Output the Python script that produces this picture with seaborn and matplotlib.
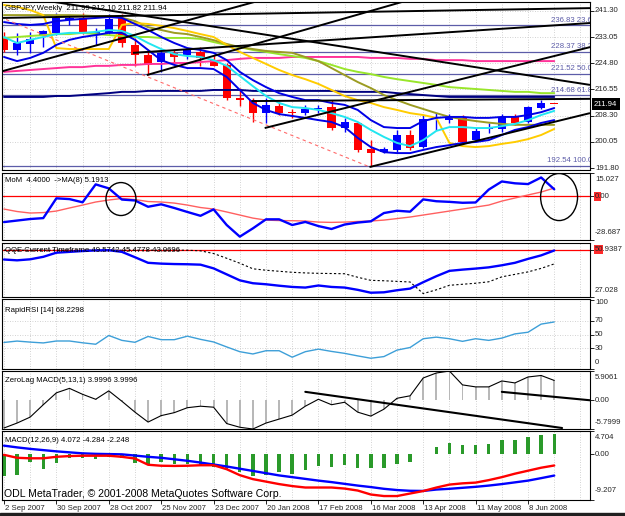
import matplotlib
matplotlib.use("Agg")
import matplotlib.pyplot as plt
import matplotlib.transforms as mtransforms
from matplotlib.patches import Ellipse, Rectangle
import numpy as np
import pandas as pd
import seaborn as sns

sns.set_style("white")
plt.rcParams['font.family'] = ['Liberation Sans Narrow', 'Liberation Sans', 'DejaVu Sans']
plt.rcParams['axes.linewidth'] = 0.75

# ------------------------------------------------------------------ data
weeks = list(range(43))
date_index = [0, 4, 8, 12, 16, 20, 24, 28, 32, 36, 40]
date_labels = ["2 Sep 2007", "30 Sep 2007", "28 Oct 2007", "25 Nov 2007", "23 Dec 2007",
               "20 Jan 2008", "17 Feb 2008", "16 Mar 2008", "13 Apr 2008", "11 May 2008",
               "8 Jun 2008"]

open_ = [232.8, 229.0, 230.9, 233.4, 234.3, 238.5, 239.0, 234.0, 234.3, 239.0, 230.6, 227.4, 225.3,
         228.0, 227.4, 228.5, 225.9, 224.3, 214.0, 213.2, 209.0, 211.3, 209.2, 209.0, 210.5, 211.1,
         204.3, 205.9, 197.7, 196.8, 197.5, 202.2, 198.5, 207.6, 206.9, 207.5, 200.6, 204.0, 204.0,
         207.8, 206.4, 210.6, 211.99]
close_ = [229.0, 231.2, 232.4, 235.0, 239.0, 239.0, 234.8, 234.6, 238.7, 231.1, 227.4, 224.3, 228.0,
          226.9, 229.0, 226.4, 224.0, 213.8, 213.2, 209.0, 211.7, 209.0, 209.0, 210.3, 210.7, 204.3,
          206.4, 197.5, 196.6, 197.7, 202.2, 198.0, 207.1, 208.0, 208.0, 200.1, 203.6, 204.4, 207.8,
          205.9, 210.9, 212.2, 211.94]
high_ = [234.7, 234.4, 234.8, 235.3, 240.6, 240.0, 240.6, 235.8, 240.2, 240.2, 232.7, 229.0, 229.0,
         229.0, 229.6, 230.0, 227.4, 224.9, 217.0, 213.8, 213.8, 212.6, 210.5, 211.7, 211.7, 213.2,
         207.5, 206.4, 200.6, 198.5, 203.8, 203.8, 208.5, 209.1, 208.8, 208.5, 204.4, 205.9, 208.8,
         208.8, 211.4, 213.3, 212.10]
low_ = [228.4, 227.4, 228.0, 230.0, 233.7, 236.9, 234.0, 230.5, 233.7, 230.0, 223.9, 221.1, 222.2,
        225.3, 226.3, 223.9, 223.9, 213.2, 211.5, 206.4, 205.9, 208.5, 207.5, 208.5, 209.0, 203.8,
        203.2, 196.9, 192.54, 196.5, 196.9, 197.5, 198.0, 203.8, 205.9, 199.5, 199.9, 202.8, 203.2,
        205.4, 205.9, 210.3, 211.82]

band_upper = [237.8, 237.2, 236.9, 237.2, 238.1, 238.5, 238.8, 239.1, 239.4, 239.1, 237.2, 235.3, 233.1,
              231.2, 229.6, 229.0, 228.1, 225.8, 222.1, 219.5, 217.3, 215.4, 214.2, 213.2, 213.2, 212.3,
              211.7, 210.1, 206.9, 204.7, 204.4, 204.4, 206.6, 207.6, 207.9, 207.9, 207.6, 207.6, 207.9,
              207.9, 208.5, 209.4, 210.7]
band_lower = [226.8, 225.5, 226.5, 228.1, 230.6, 232.2, 233.1, 233.7, 234.4, 234.4, 232.2, 229.0, 225.8,
              224.3, 223.3, 223.3, 223.0, 220.5, 216.4, 212.3, 210.1, 208.8, 208.2, 207.6, 206.9, 206.3,
              204.7, 201.3, 198.4, 196.8, 196.5, 196.5, 197.5, 198.4, 199.0, 199.7, 200.0, 200.6, 202.2,
              203.8, 204.7, 206.0, 206.9]
ma_cyan = [233.1, 231.2, 232.2, 233.1, 234.0, 234.4, 234.4, 234.7, 235.3, 235.0, 233.4, 231.2, 229.3,
           227.7, 227.1, 226.8, 225.8, 224.0, 220.8, 217.6, 214.5, 212.3, 211.0, 210.7, 210.1, 209.1,
           207.9, 206.3, 203.8, 201.6, 199.7, 198.7, 200.6, 203.5, 204.7, 204.7, 204.4, 204.4, 205.0,
           205.7, 206.9, 208.5, 209.8]
ma_yellow = [243.2, 242.6, 241.6, 240.0, 229.6, 229.3, 229.3, 229.3, 229.3, 236.9, 237.5, 237.2, 236.6,
             235.9, 235.0, 234.0, 233.1, 230.6, 228.4, 226.5, 224.6, 222.7, 221.1, 219.8, 218.3, 216.4,
             214.5, 213.2, 212.3, 211.0, 210.1, 209.1, 208.5, 207.6, 199.7, 198.7, 198.4, 198.7, 199.4,
             200.0, 200.9, 202.2, 204.1]
ma_olive = [240.0, 240.0, 240.0, 240.0, 240.0, 240.0, 239.9, 239.7, 239.7, 239.2, 238.1, 236.2, 235.3,
            234.4, 234.0, 233.1, 232.1, 230.9, 229.9, 229.3, 228.7, 228.4, 228.1, 226.8, 225.5, 223.3,
            221.1, 218.9, 217.0, 214.8, 213.2, 211.7, 210.4, 209.1, 207.9, 207.2, 206.6, 206.1, 205.7,
            205.4, 205.4, 205.4, 205.4]
ma_green = [232.8, 233.1, 233.4, 233.7, 234.0, 234.0, 234.4, 234.0, 233.7, 233.4, 233.1, 233.1, 232.8,
            232.8, 232.8, 232.5, 231.5, 230.6, 229.9, 229.0, 228.4, 227.7, 227.1, 226.5, 225.5, 224.3,
            223.0, 222.1, 221.4, 220.5, 219.8, 219.2, 218.6, 218.0, 217.3, 217.0, 216.7, 216.4, 216.1,
            215.8, 215.8, 215.4, 215.4]
ma_pink = [222.1, 222.4, 222.7, 223.0, 223.3, 223.6, 223.6, 224.0, 224.0, 224.3, 224.3, 224.6, 224.6,
           224.9, 224.9, 225.2, 225.5, 225.8, 226.2, 226.5, 226.5, 226.5, 226.8, 226.8, 226.8, 226.8,
           226.8, 226.8, 226.5, 226.5, 226.5, 226.2, 226.2, 225.8, 225.8, 225.8, 225.5, 225.5, 225.5,
           225.5, 225.5, 225.5, 225.5]
ma_navy = [214.2, 214.2, 214.2, 214.2, 214.5, 214.5, 214.8, 215.1, 215.4, 215.8, 215.8, 216.1, 216.1,
           216.1, 216.1, 216.1, 216.4, 216.4, 216.4, 216.1, 216.1, 216.1, 216.1, 216.1, 216.1, 216.1,
           215.8, 215.8, 215.8, 215.8, 215.4, 215.1, 214.8, 214.5, 214.2, 214.2, 214.2, 214.2, 214.2,
           214.2, 214.2, 214.2, 214.2]

price_ticks = [241.30, 233.05, 224.80, 216.55, 208.30, 200.05, 191.80]
last_price = 211.94
fib_levels = [236.83, 228.37, 221.52, 214.68, 192.54]
fib_pcts = ["23.6", "38.2", "50.0", "61.8", "100.0"]

# user trend lines (week index, price) start -> end
trend_x0 = [-0.31, 3.9, -0.31, 10.9, 9.85, 19.9, 18.9, 27.9]
trend_y0 = [239.1, 244.1, 222.1, 221.1, 228.1, 204.4, 212.9, 192.1]
trend_x1 = [44.73, 44.73, 19.7, 30.6, 44.73, 44.73, 44.73, 44.73]
trend_y1 = [242.2, 218.0, 244.8, 244.4, 237.5, 229.9, 213.6, 209.1]
dashed_x = [-0.31, 27.94]
dashed_y = [239.4, 192.1]

mom = [-17.0, -16.0, -15.0, -14.4, -1.5, -2.0, -4.1, 7.6, 5.0, -2.3, -2.9, -7.0, -5.4, -7.8, -10.4,
       -12.9, -8.7, -18.9, -26.5, -21.1, -15.2, -15.2, -18.9, -16.9, -19.6, -21.5, -18.6, -17.3, -16.5,
       -11.1, -9.6, -10.2, -2.2, -3.4, -3.8, -4.4, -4.2, 4.2, 9.5, 8.3, 7.8, 12.1, 4.4]
mom_ma = [-8.5, -10.1, -11.1, -10.8, -9.8, -7.8, -5.9, -3.9, -2.6, -1.6, -2.3, -3.6, -3.9, -4.6, -5.9,
          -7.5, -8.5, -10.4, -12.4, -14.4, -15.7, -16.0, -16.1, -16.3, -17.0, -17.2, -17.0, -16.6, -16.3,
          -15.7, -14.7, -13.7, -12.4, -11.1, -9.8, -8.5, -7.2, -5.9, -3.3, -1.3, 0.7, 2.6, 5.19]
circle_x = [8.93, 42.37]
circle_y = [-1.96, -0.65]
circle_w = [2.29, 2.82]
circle_h = [21.5, 30.7]

qqe_fast = [45.2, 44.8, 45.3, 46.5, 48.5, 48.9, 49.3, 49.6, 49.7, 48.9, 46.3, 43.6, 43.2, 43.0, 42.9,
            42.7, 40.9, 38.0, 35.1, 33.7, 33.2, 32.5, 31.9, 31.6, 32.6, 31.9, 31.6, 30.5, 29.1, 29.3,
            30.3, 31.1, 34.2, 37.1, 39.7, 40.3, 40.8, 41.4, 42.4, 43.6, 45.5, 47.2, 49.57]
qqe_slow = [49.7, 49.7, 49.7, 49.7, 49.7, 49.7, 49.7, 49.7, 49.7, 49.7, 49.7, 49.7, 49.7, 49.7, 49.7,
            49.4, 48.1, 45.8, 43.4, 40.7, 40.0, 39.5, 39.0, 38.7, 38.5, 38.4, 38.3, 36.6, 35.1, 34.9,
            34.6, 34.3, 28.7, 30.5, 32.7, 33.2, 33.7, 34.4, 36.8, 38.0, 39.2, 40.9, 43.07]

rapid_rsi = [38.5, 40.5, 39.0, 37.8, 40.6, 40.6, 38.0, 35.9, 48.6, 41.5, 38.7, 47.2, 42.5, 42.5, 47.6,
             43.0, 39.2, 32.0, 25.1, 21.8, 26.5, 26.5, 17.1, 25.1, 28.8, 25.5, 22.7, 19.0, 15.6, 18.0,
             27.4, 31.2, 43.9, 46.2, 43.9, 40.1, 43.9, 41.5, 44.8, 50.9, 53.3, 65.1, 68.2]

zl_macd = [-5.6, -4.6, -3.4, -0.9, 1.5, 2.4, 1.2, 0.2, 1.9, -0.2, -2.4, -4.4, -3.1, -2.5, -1.5, -1.2,
           -1.4, -4.7, -5.45, -5.8, -4.6, -3.8, -3.0, -1.2, 0.2, -0.9, -0.4, -2.4, -3.2, -1.8, 0.4, 0.9,
           4.5, 5.5, 5.9, 3.1, 2.7, 2.7, 3.9, 3.5, 4.7, 5.0, 4.0]
zl_trend_x0 = [23.0, 38.0]
zl_trend_y0 = [1.7, 1.7]
zl_trend_x1 = [42.6, 44.73]
zl_trend_y1 = [-5.6, 0.0]

macd_hist = [-4.28, -4.14, -1.5, -2.9, -1.72, -0.83, -0.83, -1.03, -0.48, -0.83, -1.66, -1.86, -1.52,
             -1.86, -1.86, -2.2, -2.55, -3.1, -3.59, -4.41, -4.14, -3.59, -3.93, -3.24, -2.34, -2.55,
             -2.2, -2.76, -2.76, -2.76, -1.86, -1.52, 0.1, 1.38, 2.28, 1.79, 1.93, 2.14, 2.83, 2.97,
             3.45, 3.86, 4.07]
macd_main = [1.75, 1.4, 1.1, 0.85, 0.6, 0.4, 0.2, 0.1, 0.05, 0.0, -0.25, -0.5, -0.7, -1.0, -1.3, -1.66,
             -2.05, -2.45, -2.9, -3.35, -3.8, -4.25, -4.6, -4.95, -5.3, -5.6, -5.95, -6.3, -6.6, -6.95,
             -7.2, -7.35, -7.38, -7.1, -6.95, -6.75, -6.55, -6.3, -6.0, -5.65, -5.3, -4.8, -4.28]
macd_signal = [-0.1, -0.7, -0.8, -0.8, -0.5, -0.35, -0.28, -0.28, -0.28, -0.5, -0.85, -2.1, -2.3, -2.34,
               -2.3, -2.2, -2.2, -3.0, -4.2, -5.0, -5.5, -6.0, -6.4, -6.69, -6.69, -6.69, -6.9, -7.3,
               -8.1, -8.41, -8.41, -7.9, -7.4, -6.7, -6.1, -5.85, -5.7, -5.2, -4.6, -3.9, -3.3, -2.7,
               -2.25]

# ------------------------------------------------------------------ styling
W, H = 625, 516
FS = 5.6
GRID = '#c4c4c4'
BLUE = '#0000ff'
RED = '#ff0000'
FIBC = '#5c5ca8'

fig = plt.figure(figsize=(W / 100, H / 100), dpi=100)
fig.patch.set_facecolor('white')
XL, XR = 2, 590


def panel(top, bot):
    ax = fig.add_axes([XL / W, 1 - bot / H, (XR - XL) / W, (bot - top) / H])
    ax.set_xlim(-0.15, 44.73)
    ax.set_facecolor('white')
    for s in ax.spines.values():
        s.set_color('black')
        s.set_linewidth(0.8)
    ax.tick_params(left=False, labelleft=False, bottom=False, labelbottom=False)
    for gx in range(0, 45, 2):
        ax.axvline(gx, color=GRID, lw=0.6, ls=(0, (1, 2)), zorder=0)
    return ax


def btrans(ax, dx=0, dy=0):
    base = mtransforms.blended_transform_factory(ax.transAxes, ax.transData)
    return mtransforms.offset_copy(base, fig=fig, x=dx, y=dy, units='dots')


def rlabels(ax, items):
    ax.yaxis.tick_right()
    ax.set_yticks([it[0] for it in items])
    ax.tick_params(axis='y', right=True, length=3, width=0.6, direction='out',
                   labelright=False, color='black')
    for v, t, va, dy in items:
        ax.text(1, v, t, transform=btrans(ax, 5, dy), ha='left', va=va, fontsize=FS,
                clip_on=False, zorder=6)


def red_box(ax, v, wpx):
    """small red marker box behind the start of a level label (pixel sized)"""
    y0, y1 = ax.get_ylim()
    hpx = ax.get_position().height * H
    per_px = (y1 - y0) / hpx
    ax.add_patch(Rectangle((1, v - 4.5 * per_px), wpx / (ax.get_position().width * W), 9 * per_px,
                           transform=btrans(ax, 4, 0), fc='#ff2a2a', ec='none',
                           clip_on=False, zorder=5))


def line(ax, y, color, lw, **kw):
    sns.lineplot(x=weeks, y=y, ax=ax, color=color, lw=lw, legend=False, sort=False,
                 estimator=None, **kw)


# ------------------------------------------------------------------ main price panel
ax = panel(2, 170)
ax.set_ylim(191.17, 244.13)
for v in price_ticks[:-1]:
    ax.axhline(v, color=GRID, lw=0.6, ls=(0, (1, 2)), zorder=0)
for lvl, pct in zip(fib_levels, fib_pcts):
    ax.axhline(lvl, color=FIBC, lw=0.9, zorder=1)
    ax.text(1, lvl, f"{lvl:.2f} {pct}", transform=btrans(ax, 2, 5), ha='right', va='center',
            fontsize=FS, color=FIBC, clip_on=True)

o = np.array(open_)
c = np.array(close_)
cols = np.where(c >= o, BLUE, RED)
ax.vlines(weeks, low_, high_, colors=cols, lw=1.0, zorder=2)
ax.bar(weeks, np.maximum(np.abs(c - o), 0.3), bottom=np.minimum(o, c), width=0.62,
       color=cols, linewidth=0, zorder=2.1)

line(ax, ma_navy, '#000080', 1.4, zorder=3)
line(ax, ma_pink, '#ff3399', 1.4, zorder=3)
line(ax, ma_green, '#99e62a', 1.4, zorder=3)
line(ax, ma_olive, '#9c9c22', 1.4, zorder=3)
line(ax, ma_yellow, '#ffcc00', 1.4, zorder=3)
line(ax, band_upper, '#0000e6', 1.4, zorder=3)
line(ax, band_lower, '#0000e6', 1.4, zorder=3)
line(ax, ma_cyan, '#22e6f0', 1.4, zorder=3)

ax.plot(dashed_x, dashed_y, color='#ff6a6a', lw=0.8, ls=(0, (3, 3)), zorder=3)
for x0, y0, x1, y1 in zip(trend_x0, trend_y0, trend_x1, trend_y1):
    ax.plot([x0, x1], [y0, y1], color='black', lw=1.4, zorder=4, solid_capstyle='butt')

rlabels(ax, [(v, f"{v:.2f}", 'center', 0) for v in price_ticks])
ax.text(1, last_price, f"{last_price:.2f}", transform=btrans(ax, 4, 0), ha='left', va='center',
        fontsize=FS, color='white', clip_on=False,
        bbox=dict(boxstyle='square,pad=0.3', fc='black', ec='none'))

# ------------------------------------------------------------------ MoM
ax = panel(173, 240)
ax.set_ylim(-28.687, 15.027)
ax.axhline(0, color=RED, lw=0.9, zorder=1)
line(ax, mom_ma, '#ff6060', 1.0, zorder=2)
line(ax, mom, BLUE, 1.7, zorder=3)
for ex, ey, ew, eh in zip(circle_x, circle_y, circle_w, circle_h):
    ax.add_patch(Ellipse((ex, ey), ew, eh, fill=False, ec='black', lw=1.0, zorder=4))
red_box(ax, 0.0, 7)
rlabels(ax, [(15.027, '15.027', 'top', -3), (0.0, '0.00', 'center', 0),
             (-28.687, '-28.687', 'bottom', 4)])

# ------------------------------------------------------------------ QQE
ax = panel(243, 297)
ax.set_ylim(27.028, 53.2)
ax.axhline(50, color=RED, lw=0.9, zorder=1)
line(ax, qqe_slow, 'black', 0.8, zorder=2, dashes=(2, 2))
line(ax, qqe_fast, BLUE, 1.7, zorder=3)
red_box(ax, 50.0, 9)
rlabels(ax, [(50.0, '50.9387', 'center', 0), (27.028, '27.028', 'bottom', 3)])

# ------------------------------------------------------------------ RapidRSI
ax = panel(299, 369)
ax.set_ylim(0, 101.5)
for v in [70, 50, 30]:
    ax.axhline(v, color=GRID, lw=0.6, ls=(0, (1, 2)), zorder=0)
line(ax, rapid_rsi, '#3d9fd8', 1.0, zorder=2)
rlabels(ax, [(100, '100', 'center', -2), (70, '70', 'center', 0), (50, '50', 'center', 0),
             (30, '30', 'center', 0), (0, '0', 'bottom', 3)])

# ------------------------------------------------------------------ ZeroLag MACD
ax = panel(371, 429)
ax.set_ylim(-5.7999, 5.9061)
ax.bar(weeks, zl_macd, width=0.14, color='#b8b8b8', linewidth=0, zorder=1)
line(ax, zl_macd, 'black', 0.8, zorder=2)
for x0, y0, x1, y1 in zip(zl_trend_x0, zl_trend_y0, zl_trend_x1, zl_trend_y1):
    ax.plot([x0, x1], [y0, y1], color='black', lw=1.5, zorder=3)
rlabels(ax, [(5.9061, '5.9061', 'top', -3), (0.0, '0.00', 'center', 0),
             (-5.7999, '-5.7999', 'bottom', 3)])

# ------------------------------------------------------------------ MACD
ax = panel(431, 500)
ax.set_ylim(-9.207, 4.704)
ax.bar(weeks, macd_hist, width=0.26, color='#2a9a2a', linewidth=0, zorder=1)
line(ax, macd_main, BLUE, 1.7, zorder=2)
line(ax, macd_signal, RED, 1.7, zorder=3)
rlabels(ax, [(4.704, '4.704', 'top', -3), (0.0, '0.00', 'center', 0),
             (-9.207, '-9.207', 'bottom', 6)])
ax.set_xticks(date_index)
ax.tick_params(axis='x', bottom=True, length=3, width=0.6, direction='out', color='black')
dtr = mtransforms.offset_copy(mtransforms.blended_transform_factory(ax.transData, ax.transAxes),
                              fig=fig, x=1, y=-8, units='dots')
for di, dl in zip(date_index, date_labels):
    ax.text(di, 0, dl, transform=dtr, ha='left', va='center', fontsize=FS, clip_on=False)

# ------------------------------------------------------------------ titles
titles = [(8, "GBPJPY,Weekly  211.99 212.10 211.82 211.94"),
          (181, "MoM  4.4000  ->MA(8) 5.1913"),
          (250, "QQE Current Timeframe 49.5742 45.4778 43.0696"),
          (311, "RapidRSI [14] 68.2298"),
          (381, "ZeroLag MACD(5,13,1) 3.9996 3.9996"),
          (441, "MACD(12,26,9) 4.072 -4.284 -2.248")]
for ty, tt in titles:
    fig.text(5 / W, 1 - ty / H, tt, ha='left', va='center', fontsize=FS, color='black')
fig.text(4 / W, 1 - 494 / H, "ODL MetaTrader, \u00a9 2001-2008 MetaQuotes Software Corp.",
         ha='left', va='center', fontsize=7.6, color='black', family=['Liberation Sans', 'DejaVu Sans'])

fig.patches.append(Rectangle((0, 0), 1, 3 / H, transform=fig.transFigure, color='#202020', zorder=10))

fig.savefig('out.png', dpi=100, facecolor='white')
